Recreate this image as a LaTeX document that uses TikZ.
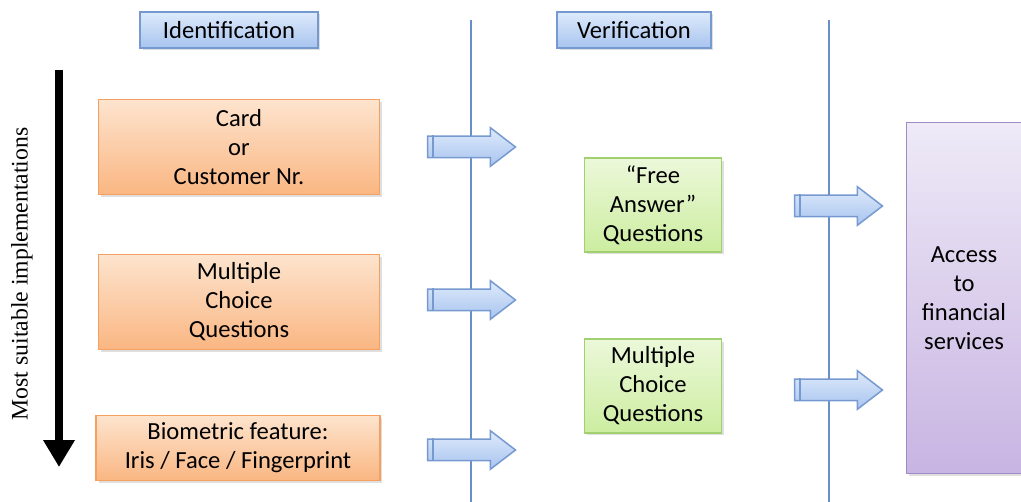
\documentclass[tikz,border=0pt]{standalone}
\usepackage{fontspec}
\setmainfont{Carlito}
\newfontfamily\rankfont{Liberation Serif}
\usepackage{xcolor}
\usepackage{tikz}
\usetikzlibrary{shapes,shapes.arrows,backgrounds}
\usetikzlibrary{arrows,positioning,calc,shadows}
\usetikzlibrary{arrows.meta}

\definecolor{peachtop}{RGB}{253,228,206}
\definecolor{peachbot}{RGB}{250,182,130}
\definecolor{peachline}{RGB}{244,160,96}
\definecolor{limetop}{RGB}{236,248,218}
\definecolor{limebot}{RGB}{204,237,160}
\definecolor{limeline}{RGB}{160,208,112}
\definecolor{lilactop}{RGB}{238,234,247}
\definecolor{lilacbot}{RGB}{200,180,226}
\definecolor{lilacline}{RGB}{160,140,196}
\definecolor{skytop}{RGB}{222,234,251}
\definecolor{skybot}{RGB}{168,196,239}
\definecolor{skyline}{RGB}{118,154,208}
\definecolor{divline}{RGB}{104,144,200}

\begin{document}
\begin{tikzpicture}[x=0.02cm,y=-0.02cm,
node distance=3.1cm,
semithick, font=\fontsize{14}{16.5}\selectfont]

\tikzstyle{every box}=[rectangle, align=center, text=black, line width=0.3mm,
drop shadow={shadow xshift=0.05cm, shadow yshift=-0.05cm, opacity=0.25}]
\tikzstyle{orangebox}=[every box, minimum width=5.62cm, minimum height=1.9cm,
top color=peachtop, bottom color=peachbot, draw=peachline]
\tikzstyle{greenbox}=[every box, minimum width=2.74cm, minimum height=1.88cm,
top color=limetop, bottom color=limebot, draw=limeline]
\tikzstyle{purplebox}=[every box, minimum width=2.3cm, minimum height=7.02cm,
top color=lilactop, bottom color=lilacbot, draw=lilacline]
\tikzstyle{phasebox}=[every box, minimum height=0.72cm,
top color=skytop, bottom color=skybot, draw=skyline]
\tikzstyle{blockarrow}=[single arrow, minimum height=1.76cm, minimum width=0.74cm,
single arrow head extend=0.17cm, single arrow tip angle=75,
inner xsep=0pt, inner ysep=0.2cm, xshift=-0.13cm,
top color=skytop, bottom color=skybot, draw=skyline, line width=0.3mm]
\tikzstyle{divider}=[draw=divline, line width=0.4mm]

\useasboundingbox (0,0) rectangle (1021,502);

%phase labels
\node[phasebox, minimum width=3.56cm]
(phaseid) at (229,30)
{Identification};

\node[phasebox, minimum width=3.08cm]
(phasever) at (634,30)
{Verification};

%dividers
\draw[divider] (471,20) -- (471,502);
\draw[divider] (829,20) -- (829,502);

%identification
\node[orangebox]
(idcard) at (239,147)
{Card\\or\\Customer Nr.};

\node[orangebox]
(idmcq) [below of=idcard]
{Multiple\\Choice\\Questions};

\node[orangebox, minimum width=5.68cm, minimum height=1.3cm]
(idbio) at (238,448)
{Biometric feature:\\Iris / Face / Fingerprint};

%verification
\node[greenbox]
(vfree) at (653,205)
{``Free\\Answer''\\Questions};

\node[greenbox]
(vmcq) at (653,386)
{Multiple\\Choice\\Questions};

%result
\node[purplebox]
(access) at (964,298)
{Access\\to\\financial\\services};

%block arrows
\node[blockarrow] (arrcard) at (471,147) {};
\node[blockarrow] (arrmcq) at (471,300) {};
\node[blockarrow] (arrbio) at (471,450) {};
\node[blockarrow] (arrfree) at (838,206) {};
\node[blockarrow] (arrvmcq) at (838,390) {};

\foreach \a in {arrcard,arrmcq,arrbio,arrfree,arrvmcq}
  \draw[skyline, line width=0.3mm]
  ($(\a.before tail)+(0.12cm,0)$) -- ($(\a.after tail)+(0.12cm,0)$);

%ranking arrow
\coordinate (ranktop) at (59,70);
\coordinate (rankbot) at (59,467);
\draw[-{Triangle[length=0.54cm,width=0.6cm]}, line width=0.17cm]
(ranktop) -- (rankbot);

\node[rotate=90]
(ranklabel) at (22,274)
{\rankfont\fontsize{13.5}{15}\selectfont Most suitable implementations};

\end{tikzpicture}
\end{document}
